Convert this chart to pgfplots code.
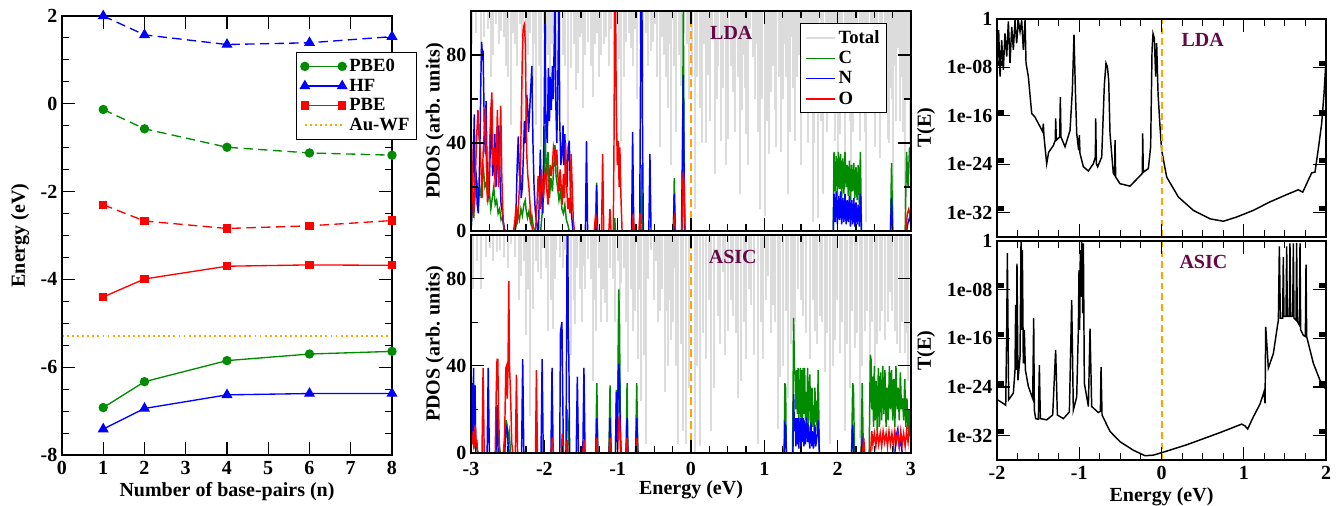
\documentclass[border=0pt]{standalone}
\usepackage{fontspec}
\setmainfont{Liberation Serif}
\usepackage{pgfplots}
\pgfplotsset{compat=1.18}
\definecolor{cgreen}{RGB}{0,139,0}
\definecolor{cblue}{RGB}{0,0,255}
\definecolor{cred}{RGB}{255,0,0}
\definecolor{corange}{RGB}{255,165,0}
\definecolor{cgray}{RGB}{220,220,220}
\definecolor{cmaroon}{RGB}{103,7,72}
\definecolor{cbase}{RGB}{60,10,10}
\newcommand{\lf}{\fontsize{15}{18}\selectfont\bfseries}
\newcommand{\gf}{\fontsize{14}{15}\selectfont\bfseries}
\pgfplotsset{
  base/.style={scale only axis, anchor=south west,
    axis line style={line width=1pt},
    tick style={line width=0.8pt, black},
    major tick length=10pt, minor tick length=5.5pt,
    tick label style={font=\lf}, label style={font=\lf},
    xticklabel style={yshift=-1pt},
    axis on top},
  pd/.style={line width=1.1pt},
  tot/.style={forget plot, draw=none, no markers, error bars/.cd, y dir=plus, y fixed=200, error mark=none,
    error bar style={draw=cgray, line width=1.5pt}},
}
\begin{document}
\begin{tikzpicture}
% ---------------- left panel ----------------
\begin{axis}[base, at={(46.5pt,38.25pt)}, width=247.5pt, height=329.25pt,
  xmin=0, xmax=8, ymin=-8, ymax=2, clip=false,
  xtick={0,1,2,3,4,5,6,7,8}, xticklabels={0,1,2,3,4,5,6,7,8},
  ytick={-8,-6,-4,-2,0,2}, yticklabels={-8,-6,-4,-2,0,2},
  minor y tick num=3,
  xlabel={Number of base-pairs (n)}, ylabel={Energy (eV)},
  xlabel style={at={(axis description cs:0.5,-0.084)}, anchor=center},
  ylabel style={at={(axis description cs:-0.127,0.5)}, anchor=center},
  legend style={at={(0.709,0.918)}, anchor=north west, draw=black, line width=0.8pt,
    fill=white, font=\gf, row sep=0pt, inner sep=3pt},
  legend cell align=left,
  legend image code/.code={\draw[#1] plot coordinates {(0pt,0pt) (28pt,0pt)};}]
\addplot[cgreen, line width=1pt, mark=*, mark size=3pt, mark options={solid}]
  coordinates {(1,-6.92)(2,-6.33)(4,-5.85)(6,-5.70)(8,-5.64)};
\addlegendentry{PBE0}
\addplot[cblue, line width=1pt, mark=triangle*, mark size=3.8pt, mark options={solid}]
  coordinates {(1,-7.41)(2,-6.94)(4,-6.63)(6,-6.60)(8,-6.60)};
\addlegendentry{HF}
\addplot[cred, line width=1pt, mark=square*, mark size=2.6pt, mark options={solid}]
  coordinates {(1,-4.40)(2,-3.99)(4,-3.70)(6,-3.67)(8,-3.68)};
\addlegendentry{PBE}
\addplot[corange, line width=1.4pt, dash pattern=on 1.4pt off 2.4pt]
  coordinates {(0,-5.28)(8,-5.28)};
\addlegendentry{Au-WF}
\addplot[forget plot, cgreen, line width=1pt, dash pattern=on 7pt off 4pt, mark=*, mark size=3pt, mark options={solid}]
  coordinates {(1,-0.13)(2,-0.57)(4,-0.99)(6,-1.12)(8,-1.17)};
\addplot[forget plot, cblue, line width=1pt, dash pattern=on 7pt off 4pt, mark=triangle*, mark size=3.8pt, mark options={solid}]
  coordinates {(1,2.0)(2,1.57)(4,1.35)(6,1.39)(8,1.53)};
\addplot[forget plot, cred, line width=1pt, dash pattern=on 7pt off 4pt, mark=square*, mark size=2.6pt, mark options={solid}]
  coordinates {(1,-2.30)(2,-2.67)(4,-2.84)(6,-2.78)(8,-2.66)};
\end{axis}
% ---------------- middle top (LDA) ----------------
\begin{axis}[base, at={(353.25pt,206.25pt)}, width=330pt, height=165pt,
  xmin=-3, xmax=3, ymin=0, ymax=100,
  xtick={-3,-2,-1,0,1,2,3}, xticklabels={}, minor x tick num=3,
  ytick={0,40,80}, yticklabels={0,40,80}, minor y tick num=1,
  ylabel={PDOS (arb. units)},
  ylabel style={at={(axis description cs:-0.082,0.5)}, anchor=center},
  legend style={at={(0.748,0.945)}, anchor=north west, draw=black, line width=0.8pt,
    fill=white, font=\gf, row sep=0.5pt, inner sep=3pt},
  legend cell align=left,
  legend image code/.code={\draw[#1] (0pt,0pt) -- (22pt,0pt);}]
\addlegendimage{cgray, line width=1.5pt}
\addlegendentry{Total}
\addplot[tot]
  coordinates {(-2.767,92)(-2.700,80)(-2.654,94)(-2.585,91)(-2.520,75)(-2.458,48)(-2.400,85)(-2.335,94)
  (-2.290,38)(-2.220,80)(-2.154,66)(-2.108,48)(-2.040,38)(-1.980,85)(-1.926,59)(-1.870,90)(-1.813,94)
  (-1.750,80)(-1.676,41)(-1.631,74)(-1.563,64)(-1.520,88)(-1.472,56)(-1.404,86)(-1.335,61)(-1.280,90)
  (-1.222,80)(-1.154,88)(-1.085,92)(-1.017,64)(-0.949,41)(-0.881,86)(-0.813,83)(-0.767,92)(-0.700,85)
  (-0.620,90)(-0.549,82)(-0.495,94)(-0.426,38)(-0.370,80)(-0.313,56)(-0.267,30)(-0.199,45)(-0.131,66)
  (-0.060,85)(0.050,10)(0.085,70)(0.120,56)(0.175,85)(0.205,40)(0.233,71)(0.280,88)(0.324,26)(0.370,75)(0.415,41)(0.460,90)
  (0.505,42)(0.540,75)(0.574,63)(0.620,88)(0.665,17)(0.710,80)(0.755,44)(0.800,92)(0.846,79)(0.890,85)(0.937,10)
  (0.970,60)(1.005,7)(1.050,90)(1.096,63)(1.130,80)(1.165,38)(1.200,70)(1.233,36)(1.280,85)(1.324,17)(1.370,88)(1.415,41)(1.470,80)
  (1.500,30)(1.528,59)(1.574,56)(1.620,90)(1.665,4)(1.700,60)(1.733,6)(1.770,50)(1.801,17)(1.835,75)(1.869,57)(1.910,85)(1.960,41)(2.028,44)
  (2.060,70)(2.096,33)(2.140,90)(2.187,7)(2.240,85)(2.270,60)(2.301,41)(2.350,80)(2.392,4)(2.420,55)(2.450,88)(2.505,38)(2.540,70)(2.574,33)
  (2.610,80)(2.642,56)(2.687,42)(2.720,65)(2.755,4)(2.790,50)(2.823,83)(2.870,70)(2.915,10)(2.950,60)(2.983,26)};
\addplot[tot]
  coordinates {(-2.98,85)(-2.93,90)(-2.87,75)(-2.82,88)(-2.73,70)(-2.62,85)(-2.55,88)(-2.49,70)(-2.43,90)
  (-2.37,75)(-2.31,88)(-2.25,70)(-2.19,90)(-2.13,85)(-2.07,75)(-2.01,90)(-1.95,80)(-1.90,85)(-1.84,70)
  (-1.78,88)(-1.72,75)(-1.60,85)(-1.54,72)(-1.50,90)(-1.44,80)(-1.37,75)(-1.31,85)(-1.25,70)(-1.19,85)
  (-1.12,75)(-1.05,85)(-0.98,78)(-0.92,70)(-0.85,90)(-0.79,75)(-0.73,60)(-0.66,70)(-0.58,75)(-0.52,86)
  (-0.46,70)(-0.40,88)(-0.34,70)(-0.29,85)(-0.23,75)(-0.16,80)(-0.10,90)(-0.03,60)(0.02,70)(0.15,40)
  (0.26,50)(0.35,60)(0.44,65)(0.48,30)(0.60,45)(0.645,70)(0.69,55)(0.735,65)(0.78,30)(0.87,60)(0.91,45)
  (1.03,50)(1.07,35)(1.115,75)(1.145,55)(1.25,60)(1.30,70)(1.35,45)(1.39,65)(1.44,70)(1.55,80)(1.60,40)
  (1.64,70)(1.68,40)(1.85,45)(1.89,70)(1.94,60)(1.99,75)(2.005,30)(2.12,60)(2.165,50)(2.21,45)(2.33,60)
  (2.37,45)(2.48,60)(2.52,55)(2.59,60)(2.66,70)(2.70,40)(2.74,60)(2.77,75)(2.85,50)(2.89,45)(2.93,80)(2.97,60)};
\addplot[cgreen, pd] coordinates {
  (-3.00,0)(-2.98,12)(-2.96,8)(-2.94,18)(-2.92,23)(-2.90,12)(-2.88,20)(-2.86,15)(-2.84,26)(-2.83,28)
  (-2.81,20)(-2.79,22)(-2.77,14)(-2.75,18)(-2.73,10)(-2.71,15)(-2.69,20)(-2.67,12)(-2.65,14)(-2.63,8)
  (-2.61,10)(-2.59,5)(-2.57,6)(-2.55,1)(-2.52,0)
  (-2.40,0)(-2.38,3)(-2.36,8)(-2.34,5)(-2.32,10)(-2.30,7)(-2.28,12)(-2.26,14)(-2.25,10)(-2.23,6)
  (-2.21,9)(-2.19,4)(-2.17,7)(-2.15,2)(-2.13,0)
  (-2.05,0)(-2.03,8)(-2.01,18)(-1.99,48)(-1.97,20)(-1.95,36)(-1.93,15)(-1.91,24)(-1.89,18)(-1.87,30)
  (-1.855,39)(-1.84,25)(-1.82,20)(-1.80,14)(-1.78,18)(-1.76,10)(-1.74,8)(-1.72,12)(-1.70,5)(-1.68,3)(-1.66,0)
  (-1.30,0)(-1.287,22)(-1.275,0)(-1.05,0)(-1.04,6)(-1.03,0)
  (-0.69,0)(-0.675,30)(-0.66,0)(-0.24,0)(-0.228,24)(-0.215,0)
  (-0.12,0)(-0.105,105)(-0.09,0)
  (1.94,0)(1.95,36)(1.965,18)(1.98,34)(1.995,16)(2.01,36)(2.025,19)(2.04,35)(2.055,15)(2.07,33)
  (2.085,17)(2.10,36)(2.115,20)(2.13,30)(2.145,16)(2.16,32)(2.175,14)(2.19,30)(2.205,18)(2.22,31)
  (2.235,15)(2.25,29)(2.265,14)(2.28,30)(2.295,12)(2.31,36)(2.325,0)
  (2.72,0)(2.735,31)(2.75,0)
  (2.92,0)(2.94,36)(2.96,20)(2.98,38)(3.0,30)};
\addlegendentry{C}
\addplot[cblue, pd] coordinates {
  (-3.00,0)(-2.985,10)(-2.97,30)(-2.955,53)(-2.945,22)(-2.93,25)(-2.915,12)(-2.90,8)(-2.88,35)(-2.865,70)
  (-2.855,86)(-2.845,80)(-2.835,82)(-2.82,50)(-2.805,35)(-2.795,59)(-2.78,28)(-2.765,15)(-2.75,22)
  (-2.735,40)(-2.72,52)(-2.705,25)(-2.69,30)(-2.675,44)(-2.66,20)(-2.645,28)(-2.63,40)(-2.62,48)
  (-2.605,25)(-2.59,12)(-2.575,9)(-2.56,4)(-2.54,0)
  (-2.40,0)(-2.385,10)(-2.37,30)(-2.355,43)(-2.34,25)(-2.33,31)(-2.315,15)(-2.30,20)(-2.285,35)
  (-2.27,50)(-2.255,40)(-2.24,62)(-2.23,58)(-2.215,45)(-2.20,55)(-2.185,65)(-2.17,75)(-2.155,40)
  (-2.14,20)(-2.125,10)(-2.11,5)(-2.09,0)
  (-2.08,0)(-2.065,20)(-2.055,37)(-2.04,15)(-2.02,8)(-2.00,60)(-1.99,110)(-1.98,50)(-1.96,40)
  (-1.945,74)(-1.93,50)(-1.92,70)(-1.905,55)(-1.89,75)(-1.88,60)(-1.865,85)(-1.855,110)(-1.845,60)
  (-1.83,40)(-1.815,70)(-1.80,110)(-1.79,50)(-1.775,30)(-1.76,35)(-1.745,48)(-1.735,30)(-1.72,44)
  (-1.705,25)(-1.69,20)(-1.675,38)(-1.66,41)(-1.645,20)(-1.63,8)(-1.61,0)
  (-1.44,0)(-1.425,41)(-1.41,0)(-1.30,0)(-1.287,21)(-1.275,0)
  (-0.81,0)(-0.796,45)(-0.78,0)
  (-0.70,0)(-0.69,60)(-0.68,110)(-0.67,110)(-0.66,40)(-0.65,0)
  (-0.575,0)(-0.56,35)(-0.545,0)(-0.24,0)(-0.228,17)(-0.215,0)
  (-0.13,0)(-0.115,40)(-0.105,71)(-0.095,30)(-0.085,0)
  (1.94,0)(1.95,17)(1.965,4)(1.98,18)(1.995,3)(2.01,16)(2.025,5)(2.04,18)(2.055,3)(2.07,15)
  (2.085,4)(2.10,17)(2.115,3)(2.13,14)(2.145,4)(2.16,16)(2.175,2)(2.19,14)(2.205,3)(2.22,15)
  (2.235,2)(2.25,13)(2.265,3)(2.28,12)(2.295,2)(2.31,17)(2.325,0)
  (2.72,0)(2.735,15)(2.75,0)
  (2.94,0)(2.96,4)(2.98,6)(3.0,3)};
\addlegendentry{N}
\addplot[cred, pd] coordinates {
  (-3.00,46)(-2.99,38)(-2.975,14)(-2.965,6)(-2.95,20)(-2.935,30)(-2.92,45)(-2.905,55)(-2.89,42)
  (-2.88,40)(-2.865,30)(-2.85,15)(-2.835,35)(-2.82,45)(-2.805,56)(-2.79,30)(-2.775,13)(-2.76,20)
  (-2.745,40)(-2.73,55)(-2.715,63)(-2.70,30)(-2.685,38)(-2.67,20)(-2.655,35)(-2.64,55)(-2.625,20)
  (-2.61,30)(-2.595,57)(-2.58,25)(-2.565,8)(-2.55,0)
  (-2.42,0)(-2.40,5)(-2.385,12)(-2.37,3)(-2.355,10)(-2.34,20)(-2.325,30)(-2.31,60)(-2.30,80)
  (-2.29,91)(-2.28,93)(-2.27,94)(-2.26,85)(-2.25,60)(-2.24,35)(-2.225,25)(-2.21,20)(-2.195,12)
  (-2.18,5)(-2.16,0)
  (-2.12,0)(-2.10,12)(-2.085,25)(-2.07,18)(-2.055,10)(-2.04,28)(-2.025,20)(-2.01,15)(-1.995,25)
  (-1.98,28)(-1.965,18)(-1.95,12)(-1.935,22)(-1.92,30)(-1.905,25)(-1.89,30)(-1.875,38)(-1.86,35)
  (-1.845,30)(-1.83,37)(-1.815,25)(-1.80,18)(-1.785,28)(-1.77,20)(-1.755,12)(-1.74,26)(-1.725,15)
  (-1.71,40)(-1.695,20)(-1.68,10)(-1.665,15)(-1.65,8)(-1.635,35)(-1.62,20)(-1.605,5)(-1.59,0)
  (-1.32,0)(-1.30,8)(-1.287,3)(-1.27,0)(-1.22,0)(-1.205,35)(-1.19,0)(-1.12,0)(-1.105,10)(-1.09,0)
  (-1.06,0)(-1.05,40)(-1.04,110)(-1.03,110)(-1.02,60)(-1.005,30)(-0.992,41)(-0.98,20)(-0.97,38)
  (-0.955,15)(-0.94,0)
  (-0.80,0)(-0.787,8)(-0.775,0)(-0.71,0)(-0.696,8)(-0.68,0)(-0.25,0)(-0.228,6)(-0.21,0)
  (-0.125,0)(-0.115,20)(-0.105,27)(-0.095,22)(-0.08,0)
  (2.93,0)(2.95,8)(2.97,10)(2.99,6)(3.0,8)};
\addlegendentry{O}
\addplot[forget plot, cbase, line width=1.6pt] coordinates {(-3,0)(3,0)};
\addplot[forget plot, corange, line width=1.5pt, dash pattern=on 6pt off 3pt] coordinates {(0,0)(0,100)};
\node[font=\lf, text=cmaroon] at (axis cs:0.55,90) {LDA};
\end{axis}
% ---------------- middle bottom (ASIC) ----------------
\begin{axis}[base, at={(353.25pt,39.75pt)}, width=330pt, height=163.5pt,
  xmin=-3, xmax=3, ymin=0, ymax=100,
  xtick={-3,-2,-1,0,1,2,3}, xticklabels={-3,-2,-1,0,1,2,3}, minor x tick num=3,
  xticklabel style={yshift=-2.5pt},
  ytick={0,40,80}, yticklabels={0,40,80}, minor y tick num=1,
  xlabel={Energy (eV)}, ylabel={PDOS (arb. units)},
  xlabel style={at={(axis description cs:0.5,-0.170)}, anchor=center},
  ylabel style={at={(axis description cs:-0.082,0.5)}, anchor=center}]
\addplot[tot]
  coordinates {(-2.972,75)(-2.858,75)(-2.745,94)(-2.608,93)(-2.449,96)(-2.313,81)(-2.245,54)(-2.199,17)
  (-2.154,66)(-2.085,83)(-2.017,94)(-1.949,56)(-1.881,57)(-1.835,93)(-1.722,93)(-1.631,45)(-1.585,59)
  (-1.517,75)(-1.472,86)(-1.404,89)(-1.335,33)(-1.290,56)(-1.222,60)(-1.176,69)(-1.100,85)(-1.040,60)
  (-0.949,78)(-0.858,37)(-0.790,56)(-0.722,43)(-0.676,24)(-0.608,4)(-0.540,93)(-0.480,88)(-0.426,65)
  (-0.358,28)(-0.313,40)(-0.267,52)(-0.220,85)(-0.176,4)(-0.108,10)(-0.063,4)
  (0.050,0)(0.120,3)(0.210,43)(0.278,10)(0.369,63)(0.437,83)(0.505,56)(0.574,63)(0.642,25)(0.687,33)
  (0.755,43)(0.824,68)(0.915,4)(0.983,43)(1.051,81)(1.119,68)(1.187,11)(1.255,40)(1.324,25)(1.392,56)
  (1.460,75)(1.528,63)(1.619,43)(1.687,56)(1.755,63)(1.824,37)(1.892,4)(1.960,52)(2.028,46)(2.096,10)
  (2.165,30)(2.233,48)(2.301,7)(2.369,56)(2.437,43)(2.505,37)(2.574,56)(2.642,52)(2.710,74)(2.778,56)
  (2.846,46)(2.915,46)(2.960,33)};
\addplot[tot]
  coordinates {(-2.99,80)(-2.92,88)(-2.80,90)(-2.70,88)(-2.65,92)(-2.55,90)(-2.50,85)(-2.40,90)(-2.35,70)
  (-2.28,88)(-2.22,75)(-2.12,88)(-2.05,80)(-1.98,85)(-1.91,70)(-1.86,80)(-1.78,90)(-1.75,85)(-1.68,80)
  (-1.60,70)(-1.55,85)(-1.49,60)(-1.44,75)(-1.37,80)(-1.31,70)(-1.26,85)(-1.20,75)(-1.14,60)(-1.07,80)
  (-1.00,88)(-0.97,70)(-0.92,85)(-0.88,60)(-0.82,75)(-0.76,65)(-0.70,75)(-0.64,45)(-0.58,80)(-0.51,70)
  (-0.45,60)(-0.39,75)(-0.33,65)(-0.29,70)(-0.24,60)(-0.20,40)(-0.14,50)(-0.03,30)(0.08,40)(0.16,55)
  (0.25,70)(0.32,30)(0.40,50)(0.47,45)(0.54,70)(0.61,55)(0.72,60)(0.79,75)(0.86,45)(0.95,60)(1.02,70)
  (1.09,55)(1.15,60)(1.22,35)(1.29,65)(1.36,50)(1.42,60)(1.50,70)(1.57,55)(1.66,70)(1.72,50)(1.79,60)
  (1.86,55)(1.93,40)(1.99,70)(2.06,60)(2.13,50)(2.20,65)(2.27,55)(2.33,40)(2.40,65)(2.47,60)(2.54,50)
  (2.61,65)(2.68,60)(2.74,65)(2.81,50)(2.88,60)(2.94,55)};
\addplot[cgreen, pd] coordinates {
  (-3.0,14)(-2.99,5)(-2.98,10)(-2.96,3)(-2.94,6)(-2.92,2)(-2.90,0)
  (-2.66,0)(-2.645,20)(-2.62,5)(-2.60,0)
  (-2.56,0)(-2.54,8)(-2.52,15)(-2.50,6)(-2.48,10)(-2.46,0)
  (-1.70,0)(-1.69,20)(-1.675,14)(-1.66,0)
  (-1.30,0)(-1.284,32)(-1.27,0)(-1.12,0)(-1.104,31)(-1.09,0)
  (-1.03,0)(-1.017,29)(-1.005,10)(-0.995,40)(-0.985,75)(-0.975,60)(-0.965,20)(-0.955,0)
  (-0.885,0)(-0.872,32)(-0.86,0)(-0.755,0)(-0.74,32)(-0.725,0)
  (1.27,0)(1.28,32)(1.29,30)(1.30,0)
  (1.385,0)(1.40,62)(1.41,40)(1.42,35)(1.43,20)(1.44,38)(1.45,18)(1.46,39)(1.47,15)(1.48,25)
  (1.49,39)(1.50,16)(1.51,38)(1.52,15)(1.53,39)(1.54,18)(1.55,39)(1.56,15)(1.57,28)(1.58,16)
  (1.59,39)(1.60,12)(1.62,36)(1.635,10)(1.65,30)(1.66,12)(1.67,22)(1.68,10)(1.69,30)(1.70,14)
  (1.71,24)(1.72,10)(1.735,38)(1.75,0)
  (2.19,0)(2.205,32)(2.215,30)(2.23,0)(2.32,0)(2.335,32)(2.35,0)
  (2.43,0)(2.445,45)(2.455,43)(2.465,20)(2.475,35)(2.49,12)(2.50,40)(2.51,15)(2.525,33)(2.54,10)
  (2.555,39)(2.57,12)(2.585,37)(2.60,15)(2.615,40)(2.63,18)(2.645,38)(2.66,12)(2.675,30)(2.69,15)
  (2.705,40)(2.72,20)(2.735,38)(2.75,15)(2.765,34)(2.78,12)(2.795,40)(2.81,20)(2.825,30)(2.84,15)
  (2.855,37)(2.87,20)(2.885,25)(2.90,15)(2.915,34)(2.93,12)(2.945,25)(2.96,10)(2.975,20)(3.0,5)};
\addplot[cblue, pd] coordinates {
  (-3.00,54)(-2.995,20)(-2.985,32)(-2.975,5)(-2.965,39)(-2.955,10)(-2.945,31)(-2.935,0)
  (-2.78,0)(-2.765,39)(-2.75,0)(-2.66,0)(-2.645,22)(-2.63,0)
  (-2.54,0)(-2.525,10)(-2.51,12)(-2.495,5)(-2.48,0)
  (-2.31,0)(-2.295,43)(-2.28,0)(-2.045,0)(-2.03,43)(-2.015,0)(-1.91,0)(-1.895,39)(-1.88,0)
  (-1.79,0)(-1.78,55)(-1.77,58)(-1.76,60)(-1.75,30)(-1.74,0)
  (-1.705,0)(-1.695,60)(-1.69,100)(-1.68,110)(-1.675,60)(-1.665,42)(-1.655,0)
  (-1.565,0)(-1.55,35)(-1.535,0)(-1.475,0)(-1.46,39)(-1.445,0)
  (-1.295,0)(-1.284,16)(-1.27,0)(-1.115,0)(-1.104,16)(-1.09,0)
  (-1.03,0)(-1.017,28)(-1.005,5)(-0.995,25)(-0.985,41)(-0.975,35)(-0.965,10)(-0.955,0)
  (-0.885,0)(-0.872,16)(-0.86,0)(-0.755,0)(-0.74,16)(-0.725,0)
  (1.27,0)(1.28,13)(1.29,12)(1.30,0)
  (1.39,0)(1.40,27)(1.41,10)(1.42,16)(1.43,3)(1.44,16)(1.45,4)(1.46,16)(1.47,2)(1.48,12)(1.49,16)
  (1.50,3)(1.51,16)(1.52,5)(1.53,16)(1.54,3)(1.55,15)(1.56,4)(1.57,10)(1.58,16)(1.59,5)(1.60,13)
  (1.62,2)(1.635,14)(1.65,3)(1.66,10)(1.67,2)(1.69,13)(1.70,3)(1.72,8)(1.735,15)(1.75,0)
  (2.19,0)(2.205,13)(2.22,0)(2.32,0)(2.335,5)(2.35,0)
  (2.78,0)(2.80,8)(2.82,11)(2.84,3)(2.86,6)(2.88,0)};
\addplot[cred, pd] coordinates {
  (-3.00,5)(-2.99,10)(-2.98,4)(-2.97,8)(-2.96,2)(-2.95,11)(-2.94,13)(-2.93,3)(-2.92,6)(-2.91,0)
  (-2.85,0)(-2.835,39)(-2.82,0)
  (-2.67,0)(-2.655,30)(-2.645,43)(-2.635,43)(-2.625,20)(-2.61,0)
  (-2.545,0)(-2.535,20)(-2.525,39)(-2.515,40)(-2.505,25)(-2.495,40)(-2.485,79)(-2.475,40)
  (-2.465,31)(-2.455,20)(-2.445,5)(-2.43,0)
  (-2.395,0)(-2.38,36)(-2.365,0)(-2.12,0)(-2.108,38)(-2.095,0)
  (-1.91,0)(-1.89,7)(-1.875,0)(-1.77,0)(-1.755,9)(-1.74,0)(-1.70,0)(-1.69,6)(-1.68,0)
  (-1.475,0)(-1.46,6)(-1.445,0)(-1.295,0)(-1.284,7)(-1.27,0)(-1.115,0)(-1.104,7)(-1.09,0)
  (-1.00,0)(-0.99,12)(-0.98,17)(-0.97,12)(-0.96,0)
  (-0.885,0)(-0.872,7)(-0.86,0)(-0.755,0)(-0.74,7)(-0.725,0)
  (2.34,0)(2.355,7)(2.37,0)
  (2.45,0)(2.465,10)(2.48,4)(2.50,9)(2.52,3)(2.54,10)(2.56,4)(2.58,9)(2.60,3)(2.62,10)(2.64,5)
  (2.66,9)(2.68,3)(2.70,10)(2.72,4)(2.74,9)(2.76,3)(2.78,10)(2.80,5)(2.82,9)(2.84,3)(2.86,10)
  (2.88,4)(2.90,9)(2.92,3)(2.94,10)(2.96,5)(2.98,13)(3.0,5)};
\addplot[cbase, line width=1.6pt] coordinates {(-3,0)(3,0)};
\addplot[corange, line width=1.5pt, dash pattern=on 6pt off 3pt] coordinates {(0,0)(0,100)};
\node[font=\lf, text=cmaroon] at (axis cs:0.57,90) {ASIC};
\end{axis}
% ---------------- right top (LDA transmission) ----------------
\begin{axis}[base, at={(747.75pt,201.75pt)}, width=246.75pt, height=163.5pt,
  xmin=-2, xmax=2, ymin=-36, ymax=0,
  xtick={-2,-1,0,1,2}, xticklabels={}, minor x tick num=3,
  ytick={-32,-24,-16,-8,0}, yticklabels={1e-32,1e-24,1e-16,1e-08,1},
  minor ytick={-31.7,-31.52,-31.4,-31.3,-31.22,-31.15,-31.1,-31.05,
    -23.7,-23.52,-23.4,-23.3,-23.22,-23.15,-23.1,-23.05,
    -15.7,-15.52,-15.4,-15.3,-15.22,-15.15,-15.1,-15.05,
    -7.7,-7.52,-7.4,-7.3,-7.22,-7.15,-7.1,-7.05},
  minor tick length=5pt,
  ylabel={T(E)},
  ylabel style={at={(axis description cs:-0.216,0.5)}, anchor=center}]
\addplot[black, line width=1.1pt] coordinates {
  (-1.996,-7.9)(-1.980,-1.8)(-1.963,-9.5)(-1.943,-3.5)(-1.923,-8.4)(-1.903,-2.4)(-1.882,-6.2)
  (-1.862,-0.4)(-1.842,-7.3)(-1.821,-1.3)(-1.801,-5.1)(-1.781,-0.2)(-1.761,-4.0)(-1.740,-0.3)
  (-1.720,-2.1)(-1.700,-0.2)(-1.680,-5.1)(-1.659,-0.2)(-1.647,-7.3)(-1.619,-9.5)(-1.578,-15.6)
  (-1.538,-16.2)(-1.445,-18.6)(-1.437,-17.3)(-1.428,-19.5)(-1.396,-23.9)(-1.372,-22.0)(-1.315,-20.9)
  (-1.291,-20.0)(-1.287,-16.4)(-1.278,-20.0)(-1.238,-19.5)(-1.230,-12.9)(-1.222,-19.5)(-1.173,-21.1)
  (-1.112,-18.4)(-1.084,-11.8)(-1.064,-2.6)(-1.047,-11.8)(-1.031,-18.9)(-1.007,-21.7)(-0.999,-19.2)
  (-0.991,-22.2)(-0.950,-24.4)(-0.889,-25.1)(-0.829,-23.9)(-0.804,-22.8)(-0.800,-16.4)(-0.792,-23.9)
  (-0.776,-24.4)(-0.727,-22.8)(-0.695,-10.9)(-0.675,-7.3)(-0.658,-7.9)(-0.642,-10.1)(-0.626,-18.9)
  (-0.586,-25.5)(-0.570,-25.8)(-0.565,-20.0)(-0.557,-26.1)(-0.504,-27.2)(-0.383,-27.6)(-0.261,-25.9)
  (-0.233,-25.5)(-0.229,-18.9)(-0.221,-25.3)(-0.160,-24.7)(-0.132,-21.1)(-0.115,-5.1)(-0.103,-2.4)
  (-0.087,-3.2)(-0.071,-9.5)(-0.059,-4.0)(-0.042,-12.3)(-0.018,-17.8)(0.002,-21.7)(0.063,-26.1)
  (0.205,-29.4)(0.387,-31.6)(0.590,-33.0)(0.752,-33.4)(0.914,-32.7)(1.117,-31.6)(1.319,-30.2)
  (1.522,-29.0)(1.664,-28.2)(1.717,-28.6)(1.785,-26.6)(1.826,-25.4)(1.866,-25.3)(1.907,-21.4)
  (1.947,-17.3)(1.976,-12.3)(2.000,-6.8)};
\addplot[corange, line width=1.5pt, dash pattern=on 5pt off 3pt] coordinates {(0,-36)(0,0)};
\node[font=\lf, text=cmaroon] at (axis cs:0.5,-3.4) {LDA};
\end{axis}
% ---------------- right bottom (ASIC transmission) ----------------
\begin{axis}[base, at={(747.75pt,34.5pt)}, width=246.75pt, height=164.25pt,
  xmin=-2, xmax=2, ymin=-36, ymax=0,
  xtick={-2,-1,0,1,2}, xticklabels={-2,-1,0,1,2}, minor x tick num=3,
  ytick={-32,-24,-16,-8,0}, yticklabels={1e-32,1e-24,1e-16,1e-08,1},
  minor ytick={-31.7,-31.52,-31.4,-31.3,-31.22,-31.15,-31.1,-31.05,
    -23.7,-23.52,-23.4,-23.3,-23.22,-23.15,-23.1,-23.05,
    -15.7,-15.52,-15.4,-15.3,-15.22,-15.15,-15.1,-15.05,
    -7.7,-7.52,-7.4,-7.3,-7.22,-7.15,-7.1,-7.05},
  minor tick length=5pt,
  xlabel={Energy (eV)}, ylabel={T(E)},
  xlabel style={at={(axis description cs:0.5,-0.17)}, anchor=center},
  ylabel style={at={(axis description cs:-0.216,0.5)}, anchor=center}]
\addplot[black, line width=1.1pt] coordinates {
  (-1.996,-26.1)(-1.923,-26.7)(-1.894,-27.0)(-1.882,-14.6)(-1.874,-2.0)(-1.866,-14.6)(-1.858,-26.1)
  (-1.801,-25.0)(-1.781,-21.2)(-1.773,-10.5)(-1.765,-21.2)(-1.757,-3.7)(-1.745,-22.9)(-1.720,-19.0)
  (-1.708,-0.1)(-1.700,-14.6)(-1.692,-1.5)(-1.680,-20.1)(-1.668,-14.6)(-1.655,-21.2)(-1.619,-23.9)
  (-1.566,-25.9)(-1.554,-12.7)(-1.546,-27.8)(-1.530,-29.2)(-1.497,-29.3)(-1.485,-20.4)(-1.473,-29.2)
  (-1.396,-29.4)(-1.323,-28.6)(-1.287,-17.9)(-1.266,-28.6)(-1.193,-29.2)(-1.120,-28.1)(-1.092,-9.7)
  (-1.072,-27.8)(-1.031,-25.6)(-1.011,-14.6)(-1.003,-4.8)(-0.995,-14.6)(-0.987,-1.5)(-0.979,-9.2)
  (-0.970,-0.1)(-0.958,-11.9)(-0.950,-0.4)(-0.938,-23.4)(-0.889,-27.2)(-0.869,-14.4)(-0.849,-27.2)
  (-0.768,-28.2)(-0.743,-28.0)(-0.735,-20.7)(-0.723,-28.6)(-0.626,-31.3)(-0.504,-33.0)(-0.342,-34.4)
  (-0.200,-35.3)(-0.099,-35.2)(0.002,-34.8)(0.306,-33.5)(0.711,-31.5)(0.975,-30.1)(1.015,-30.4)
  (1.048,-30.9)(1.117,-28.9)(1.198,-26.8)(1.246,-24.8)(1.259,-26.7)(1.267,-14.1)(1.299,-20.9)
  (1.360,-18.5)(1.408,-14.1)(1.421,-13.0)(1.433,-0.9)(1.445,-12.7)(1.473,-12.7)(1.481,-2.6)
  (1.489,-12.4)(1.514,-12.4)(1.522,-0.9)(1.530,-12.4)(1.554,-12.4)(1.562,-0.4)(1.570,-12.4)
  (1.595,-12.4)(1.603,-0.4)(1.611,-12.7)(1.635,-13.0)(1.643,-0.3)(1.651,-13.2)(1.676,-13.8)
  (1.684,-0.4)(1.692,-14.6)(1.724,-15.5)(1.749,-15.7)(1.757,-3.9)(1.765,-15.7)(1.846,-20.1)
  (1.927,-22.9)(2.000,-24.4)};
\addplot[corange, line width=1.5pt, dash pattern=on 5pt off 3pt] coordinates {(0,-36)(0,0)};
\node[font=\lf, text=cmaroon] at (axis cs:0.51,-3.4) {ASIC};
\end{axis}
\pgfresetboundingbox
\useasboundingbox (0,0) rectangle (1005pt,379.5pt);
\end{tikzpicture}
\end{document}
